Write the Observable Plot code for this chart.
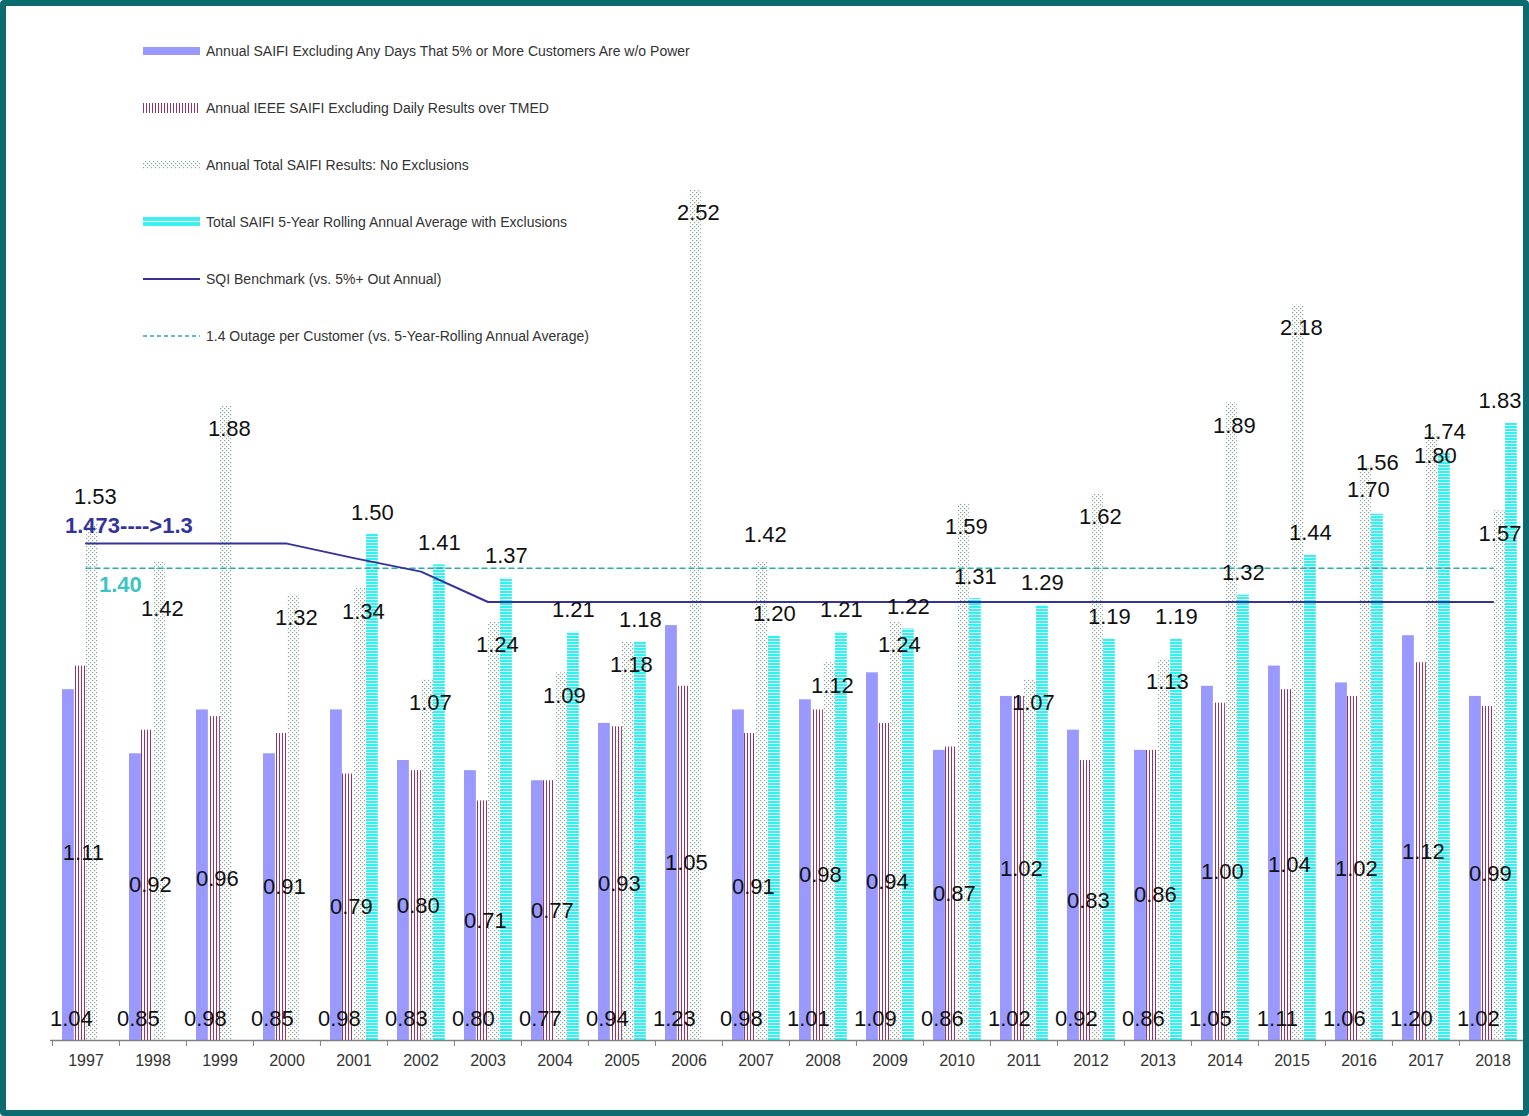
<!DOCTYPE html>
<html><head><meta charset="utf-8">
<script src="https://cdn.jsdelivr.net/npm/d3@7"></script>
<script src="https://cdn.jsdelivr.net/npm/@observablehq/plot@0.6"></script>
<style>
body{margin:0;background:#fff;font-family:"Liberation Sans",Arial,sans-serif;}
#wrap{position:relative;width:1529px;height:1116px;overflow:hidden;background:#fff;}
#frame{position:absolute;left:0;top:0;width:1529px;height:1116px;box-sizing:border-box;border:6px solid #0c6b6e;border-radius:4px;pointer-events:none;}
#legend{position:absolute;left:143px;top:0;}
.li{position:absolute;left:0;height:20px;display:flex;align-items:center;white-space:nowrap;font-size:14px;color:#333;}
.li svg{margin-right:6px;display:block}
</style></head><body>
<svg width="0" height="0" style="position:absolute">
  <defs>
    <pattern id="pat-maroon" patternUnits="userSpaceOnUse" width="3" height="4">
      <rect width="3" height="4" fill="#fff"/>
      <rect x="0" width="1" height="4" fill="#993366"/>
    </pattern>
    <pattern id="pat-dots" patternUnits="userSpaceOnUse" width="4" height="4">
      <rect width="4" height="4" fill="#fff"/>
      <rect x="0" y="0" width="1.2" height="1.2" fill="#86a597"/>
      <rect x="2" y="2" width="1.2" height="1.2" fill="#86a597"/>
    </pattern>
    <pattern id="pat-cyan" patternUnits="userSpaceOnUse" width="4" height="3">
      <rect width="4" height="3" fill="#e6ffff"/>
      <rect width="4" height="2" fill="#2ff2f2"/>
    </pattern>
  </defs>
</svg>
<div id="wrap"><div id="chart"></div><div id="legend"></div><div id="frame"></div></div>
<script>
// ---- data ----
const years = [1997,1998,1999,2000,2001,2002,2003,2004,2005,2006,2007,2008,2009,2010,2011,2012,2013,2014,2015,2016,2017,2018];
const saifiExcl5pct = [1.04,0.85,0.98,0.85,0.98,0.83,0.80,0.77,0.94,1.23,0.98,1.01,1.09,0.86,1.02,0.92,0.86,1.05,1.11,1.06,1.20,1.02];
const ieeeSaifiExclTmed = [1.11,0.92,0.96,0.91,0.79,0.80,0.71,0.77,0.93,1.05,0.91,0.98,0.94,0.87,1.02,0.83,0.86,1.00,1.04,1.02,1.12,0.99];
const totalSaifi = [1.53,1.42,1.88,1.32,1.34,1.07,1.24,1.09,1.18,2.52,1.42,1.12,1.24,1.59,1.07,1.62,1.13,1.89,2.18,1.70,1.80,1.57];
const rolling5yr = [null,null,null,null,1.50,1.41,1.37,1.21,1.18,null,1.20,1.21,1.22,1.31,1.29,1.19,1.19,1.32,1.44,1.56,1.74,1.83];
const sqiBenchmark = [1.473,1.473,1.473,1.473,1.43,1.39,1.30,1.30,1.30,1.30,1.30,1.30,1.30,1.30,1.30,1.30,1.30,1.30,1.30,1.30,1.30,1.30];
const rollingTarget = 1.4;
const benchmarkNote = "1.473---->1.3";
const legendLabels = [
  "Annual SAIFI Excluding Any Days That 5% or More Customers Are w/o Power",
  "Annual IEEE SAIFI Excluding Daily Results over TMED",
  "Annual Total SAIFI Results: No Exclusions",
  "Total SAIFI 5-Year Rolling Annual Average with Exclusions",
  "SQI Benchmark (vs. 5%+ Out Annual)",
  "1.4 Outage per Customer (vs. 5-Year-Rolling Annual Average)"
];

const rows = years.map((y, i) => ({
  year: y, i, s1: saifiExcl5pct[i], s2: ieeeSaifiExclTmed[i], s3: totalSaifi[i], s4: rolling5yr[i],
  bench: sqiBenchmark[i], target: rollingTarget
}));

// ---- layout ----
const W = 1529, H = 1116, mL = 50, mR = 2, mT = 28, mB = 76, yMax = 3;
const bw = (W - mL - mR) / years.length;
const k = (H - mB - mT) / yMax;          // pixels per unit
const py = v => H - mB - v * k;          // pixel y (for collision checks only)
const off = 10, w = 12;
const ins = i => ({insetLeft: off + i * w, insetRight: bw - off - (i + 1) * w});
const fmt = v => v.toFixed(2);
const font = '"Liberation Sans", Arial, sans-serif';
const lblStyle = {fontSize: 22, fill: "#111", fontFamily: font};
const halfLbl = 22, edge = W - 7;

// note box (for collision avoidance)
const noteDx = -21, noteDy = -18, noteW = 132;
const noteX0 = mL + bw / 2 + noteDx, noteYc = py(sqiBenchmark[0]) + noteDy;
const hitsNote = (xc, yc) => xc + halfLbl > noteX0 && xc - halfLbl < noteX0 + noteW && Math.abs(yc - noteYc) < 22;

// label placement rules for total SAIFI labels
const s3Below = 23, s3Above = -27, s3Far = 47, s4Above = -22, s3x = 43, s4x = 52;
const s3Pos = d => {
  const near = [d.bench, d.target].some(v => Math.abs(py(d.s3) + s3Below - py(v)) < 18);
  if (!near) return "below";
  return hitsNote(mL + d.i * bw + s3x, py(d.s3) + s3Above) ? "far" : "above";
};
const s3Data = rows.map(d => ({...d, pos: s3Pos(d)}));
const s4Data = rows.filter(d => d.s4 != null).map(d => {
  const clash = s3Pos(d) === "below" && Math.abs((py(d.s3) + s3Below) - (py(d.s4) + s4Above)) < 24;
  return {...d, clash, val: d.s4};
});

function labels(data, yAcc, valAcc, xOff, dy) {
  const fits = d => mL + d.i * bw + xOff + halfLbl <= edge;
  return [
    Plot.text(data.filter(fits), {x: "year", y: yAcc, text: d => fmt(valAcc(d)), dx: xOff - bw / 2, dy, ...lblStyle}),
    Plot.text(data.filter(d => !fits(d)), {x: "year", y: yAcc, text: d => fmt(valAcc(d)),
      textAnchor: "end", dx: off + 4 * w + 4 - bw / 2, dy, ...lblStyle})
  ];
}

const chart = Plot.plot({
  width: W, height: H, marginLeft: mL, marginRight: mR, marginTop: mT, marginBottom: mB,
  style: {fontFamily: font, background: "transparent", overflow: "visible"},
  x: {type: "band", domain: years, padding: 0, axis: null},
  y: {domain: [0, yMax], axis: null},
  marks: [
    Plot.barY(rows, {x: "year", y: "s1", fill: "#9999ff", ...ins(0)}),
    Plot.barY(rows, {x: "year", y: "s2", fill: "url(#pat-maroon)", ...ins(1)}),
    Plot.barY(rows, {x: "year", y: "s3", fill: "url(#pat-dots)", ...ins(2)}),
    Plot.barY(rows.filter(d => d.s4 != null), {x: "year", y: "s4", fill: "url(#pat-cyan)", ...ins(3)}),
    Plot.ruleY([0], {stroke: "#808080", strokeWidth: 1.5}),
    Plot.axisX({anchor: "bottom", tickSize: 6, tickFormat: () => "", dx: -bw / 2, stroke: "#808080", label: null}),
    Plot.axisX({anchor: "bottom", tickSize: 0, tickPadding: 14, fontSize: 16, fill: "#333", label: null, tickFormat: d => String(d)}),
    Plot.line(rows, {x: "year", y: "target", stroke: "#2aacac", strokeWidth: 1.5, strokeDasharray: "5,4"}),
    Plot.line(rows, {x: "year", y: "bench", stroke: "#333399", strokeWidth: 2}),
    Plot.text(rows.slice(0, 1), {x: "year", y: "bench", text: () => benchmarkNote, textAnchor: "start", dx: noteDx, dy: noteDy,
      fill: "#333399", fontWeight: "bold", fontSize: 22, fontFamily: font}),
    Plot.text(rows.slice(0, 1), {x: "year", y: "target", text: d => d.target.toFixed(2), textAnchor: "start", dx: 13, dy: 17,
      fill: "#3cc4c4", fontWeight: "bold", fontSize: 22, fontFamily: font}),
    Plot.text(rows, {x: "year", y: () => 0, text: d => fmt(d.s1), dx: 19 - bw / 2, dy: -22, ...lblStyle}),
    Plot.text(rows, {x: "year", y: d => d.s2 / 2, text: d => fmt(d.s2), dx: 31 - bw / 2, ...lblStyle}),
    ...labels(s3Data.filter(d => d.pos === "below"), "s3", d => d.s3, s3x, s3Below),
    ...labels(s3Data.filter(d => d.pos === "above"), "s3", d => d.s3, s3x, s3Above),
    ...labels(s3Data.filter(d => d.pos === "far"), "s3", d => d.s3, s3x, s3Far),
    ...labels(s4Data.filter(d => !d.clash), "s4", d => d.s4, s4x, s4Above),
    ...labels(s4Data.filter(d => d.clash), "s3", d => d.s4, s4x, s3Below - 27)
  ]
});
document.getElementById("chart").appendChild(chart);

// ---- legend ----
const sw = [
  '<rect x="0" y="6" width="57" height="8" fill="#9999ff"/>',
  '<rect x="0" y="5" width="57" height="10" fill="url(#pat-maroon)"/>',
  '<rect x="0" y="6" width="57" height="8" fill="url(#pat-dots)"/>',
  '<rect x="0" y="5" width="57" height="4" fill="#3ff0f0"/><rect x="0" y="10" width="57" height="4" fill="#3ff0f0"/>',
  '<line x1="0" x2="57" y1="10" y2="10" stroke="#333399" stroke-width="2"/>',
  '<line x1="0" x2="57" y1="10" y2="10" stroke="#2aacac" stroke-width="1.5" stroke-dasharray="4,3"/>'
];
const leg = document.getElementById("legend");
legendLabels.forEach((t, i) => {
  const d = document.createElement("div");
  d.className = "li";
  d.style.top = (41 + i * 57) + "px";
  d.innerHTML = `<svg width="57" height="20">${sw[i]}</svg><span></span>`;
  d.querySelector("span").textContent = t;
  leg.appendChild(d);
});
</script>
</body></html>
